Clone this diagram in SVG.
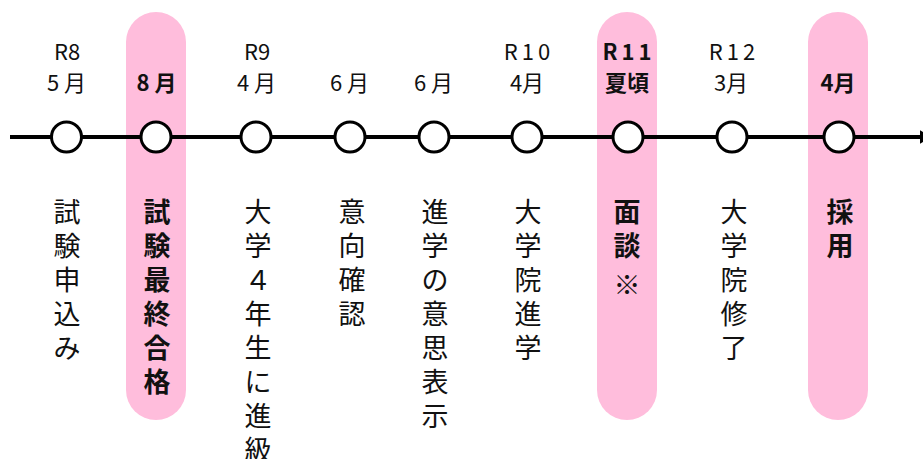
<svg xmlns="http://www.w3.org/2000/svg" width="923" height="459" viewBox="0 0 923 459">
<style>
.pill{fill:#ffbddc}
.node circle{fill:#fff;stroke:#000;stroke-width:3}
text{font-family:"Noto Sans CJK JP","Noto Sans",sans-serif;fill:#111;text-anchor:middle}
.top{font-size:22px}
.sp{letter-spacing:5px}
.v{font-size:27px}
.b{font-weight:bold}
</style>
<defs>
<marker id="arr" markerWidth="3" markerHeight="3.4" refX="3" refY="1.7" orient="auto" markerUnits="strokeWidth">
<path d="M0,0 L3,1.7 L0,3.4 Z" fill="#000"/>
</marker>
</defs>
<g id="highlights">
<rect class="pill" x="126" y="12" width="60" height="408" rx="30"/>
<rect class="pill" x="597" y="12" width="60" height="408" rx="30"/>
<rect class="pill" x="808" y="12" width="60" height="408" rx="30"/>
</g>
<g id="connectors">
<line x1="10" y1="137" x2="932" y2="137" stroke="#000" stroke-width="4" marker-end="url(#arr)"/>
</g>
<g id="n1" class="node">
<circle cx="66.5" cy="137" r="15"/>
<text class="top" x="67" y="60">R8</text><text class="top sp" x="69" y="91">5月</text>
<g class="v"><text x="67" y="222">試</text><text x="67" y="256">験</text><text x="67" y="290">申</text><text x="67" y="324">込</text><text x="67" y="358">み</text></g>
</g>
<g id="n2" class="node">
<circle cx="156" cy="137" r="15"/>
<text class="top b sp" x="159" y="91">8月</text>
<g class="v b"><text x="157" y="222">試</text><text x="157" y="256">験</text><text x="157" y="290">最</text><text x="157" y="324">終</text><text x="157" y="358">合</text><text x="157" y="392">格</text></g>
</g>
<g id="n3" class="node">
<circle cx="256" cy="137" r="15"/>
<text class="top" x="257" y="60">R9</text><text class="top sp" x="259" y="91">4月</text>
<g class="v"><text x="258" y="222">大</text><text x="258" y="256">学</text><text x="258" y="290">４</text><text x="258" y="324">年</text><text x="258" y="358">生</text><text x="258" y="392">に</text><text x="258" y="426">進</text><text x="258" y="460">級</text></g>
</g>
<g id="n4" class="node">
<circle cx="350" cy="137" r="15"/>
<text class="top sp" x="352" y="91">6月</text>
<g class="v"><text x="352" y="222">意</text><text x="352" y="256">向</text><text x="352" y="290">確</text><text x="352" y="324">認</text></g>
</g>
<g id="n5" class="node">
<circle cx="434" cy="137" r="15"/>
<text class="top sp" x="436" y="91">6月</text>
<g class="v"><text x="435" y="222">進</text><text x="435" y="256">学</text><text x="435" y="290">の</text><text x="435" y="324">意</text><text x="435" y="358">思</text><text x="435" y="392">表</text><text x="435" y="426">示</text></g>
</g>
<g id="n6" class="node">
<circle cx="527" cy="137" r="15"/>
<text class="top" x="529" y="60" letter-spacing="4">R10</text><text class="top" x="527" y="91">4月</text>
<g class="v"><text x="528" y="222">大</text><text x="528" y="256">学</text><text x="528" y="290">院</text><text x="528" y="324">進</text><text x="528" y="358">学</text></g>
</g>
<g id="n7" class="node">
<circle cx="628" cy="137" r="15"/>
<text class="top b" x="629" y="60" letter-spacing="4">R11</text><text class="top b" x="627" y="91">夏頃</text>
<g class="v"><text class="b" x="627" y="222">面</text><text class="b" x="627" y="256">談</text><text x="627" y="295">※</text></g>
</g>
<g id="n8" class="node">
<circle cx="732" cy="137" r="15"/>
<text class="top" x="734" y="60" letter-spacing="4">R12</text><text class="top" x="731" y="91">3月</text>
<g class="v"><text x="734" y="222">大</text><text x="734" y="256">学</text><text x="734" y="290">院</text><text x="734" y="324">修</text><text x="734" y="358">了</text></g>
</g>
<g id="n9" class="node">
<circle cx="839" cy="137" r="15"/>
<text class="top b" x="838" y="91">4月</text>
<g class="v b"><text x="840" y="222">採</text><text x="840" y="256">用</text></g>
</g>
</svg>
